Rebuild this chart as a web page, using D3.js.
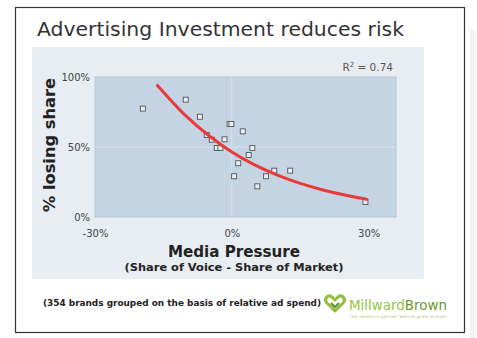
<!DOCTYPE html>
<html><head><meta charset="utf-8">
<script src="https://cdn.jsdelivr.net/npm/d3@7/dist/d3.min.js"></script>
<style>html,body{margin:0;padding:0;background:#fff;}svg{display:block;}</style>
</head><body>
<script>
// ---- data ----
const mediaPressure = [-19.5,-10.1,-7.0,-5.5,-4.4,-3.3,-2.5,-1.6,-0.5,-0.1,2.4,1.4,0.5,3.7,4.5,5.6,7.5,9.3,12.8,29.3];
const losingShare   = [77.4,83.8,71.6,58.6,55.2,49.3,49.3,55.5,66.4,66.4,61.2,38.4,29.1,44.3,49.3,21.9,29.1,33.1,33.1,10.7];
const trendX = [-16.3,-10,-5,0,5,10,15,20,25,29.6];
const trendY = [94,72,58,46.4,37.2,29.9,24,19.3,15.5,12.6];
const xTicks = [-30,0,30];
const yTicks = [0,50,100];
const rSquared = "0.74";

const W=477,H=338;
const svg=d3.select("body").append("svg").attr("width",W).attr("height",H);
const F="DejaVu Sans, Verdana, sans-serif";

// outer frame
svg.append("rect").attr("x",15.5).attr("y",7.5).attr("width",449).attr("height",325)
  .attr("fill","#fff").attr("stroke","#333").attr("stroke-width",1.2);
// faint strip at right
svg.append("rect").attr("x",470).attr("y",30).attr("width",6).attr("height",308).attr("fill","#f2f2f2");

// panel
svg.append("rect").attr("x",32).attr("y",47).attr("width",392).attr("height",232).attr("fill","#e8edf3");

// title
svg.append("text").attr("x",37).attr("y",36).attr("font-family",F).attr("font-size",20)
  .attr("fill","#333").attr("textLength",367).attr("lengthAdjust","spacingAndGlyphs")
  .text("Advertising Investment reduces risk");

const x=d3.scaleLinear().domain([-30,36]).range([95,396]);
const y=d3.scaleLinear().domain([0,100]).range([217,77]);

// plot area
svg.append("rect").attr("x",x(-30)).attr("y",y(100)).attr("width",x(36)-x(-30)).attr("height",y(0)-y(100))
  .attr("fill","#c4d4e2").attr("stroke","#b3c6d8");
// gridlines
svg.append("line").attr("x1",x(0)).attr("x2",x(0)).attr("y1",y(100)).attr("y2",y(0)).attr("stroke","#d6e1eb").attr("stroke-width",1);
svg.append("line").attr("x1",x(-30)).attr("x2",x(36)).attr("y1",y(50)).attr("y2",y(50)).attr("stroke","#d6e1eb").attr("stroke-width",1);

// axes
const fmt=d=>d+"%";
const gx=svg.append("g").attr("transform",`translate(0,${y(0)+10})`)
  .call(d3.axisBottom(x).tickValues(xTicks).tickFormat(fmt).tickSize(0));
gx.select(".domain").remove();
gx.selectAll("text").attr("font-family",F).attr("font-size",10).attr("fill","#444");
const gy=svg.append("g").attr("transform",`translate(${x(-30)-2},0)`)
  .call(d3.axisLeft(y).tickValues(yTicks).tickFormat(fmt).tickSize(0));
gy.select(".domain").remove();
gy.selectAll("text").attr("font-family",F).attr("font-size",10).attr("fill","#444");

// points
const pts=mediaPressure.map((d,i)=>({x:d,y:losingShare[i]}));
svg.append("g").selectAll("rect").data(pts).join("rect")
  .attr("x",d=>x(d.x)-2.5).attr("y",d=>y(d.y)-2.5).attr("width",5).attr("height",5)
  .attr("fill","#e6edf3").attr("stroke","#555").attr("stroke-width",0.9);

// trend line
const tr=trendX.map((d,i)=>({x:d,y:trendY[i]}));
svg.append("path").datum(tr).attr("fill","none").attr("stroke","#e8393b").attr("stroke-width",3)
  .attr("stroke-linecap","round")
  .attr("d",d3.line().x(d=>x(d.x)).y(d=>y(d.y)).curve(d3.curveMonotoneX));

// R^2
const rt=svg.append("text").attr("x",393).attr("y",71).attr("text-anchor","end")
  .attr("font-family",F).attr("font-size",10.5).attr("fill","#555");
rt.append("tspan").text("R");
rt.append("tspan").attr("font-size",7).attr("dy",-4).text("2");
rt.append("tspan").attr("dy",4).text(" = "+rSquared);

// y title
svg.append("text").attr("transform","translate(55,145) rotate(-90)").attr("text-anchor","middle")
  .attr("font-family",F).attr("font-size",16).attr("font-weight","bold").attr("fill","#222")
  .attr("textLength",134).attr("lengthAdjust","spacingAndGlyphs")
  .text("% losing share");

// x titles
svg.append("text").attr("x",234).attr("y",257).attr("text-anchor","middle")
  .attr("font-family",F).attr("font-size",15).attr("font-weight","bold").attr("fill","#222")
  .attr("textLength",132).attr("lengthAdjust","spacingAndGlyphs")
  .text("Media Pressure");
svg.append("text").attr("x",234).attr("y",271).attr("text-anchor","middle")
  .attr("font-family",F).attr("font-size",11).attr("font-weight","bold").attr("fill","#222")
  .attr("textLength",219).attr("lengthAdjust","spacingAndGlyphs")
  .text("(Share of Voice - Share of Market)");

// footer
svg.append("text").attr("x",43).attr("y",306).attr("font-family",F).attr("font-size",8.5)
  .attr("font-weight","bold").attr("fill","#222").attr("textLength",278).attr("lengthAdjust","spacingAndGlyphs")
  .text("(354 brands grouped on the basis of relative ad spend)");

// logo
const lg=svg.append("g").attr("transform","translate(335,304)");
lg.append("path").attr("d","M0,7 L-8,-1 C-12,-5 -7,-10 -3,-7 L0,-4 L3,-7 C7,-10 12,-5 8,-1 Z")
  .attr("fill","none").attr("stroke","#8fbf3f").attr("stroke-width",3).attr("stroke-linejoin","round");
lg.append("path").attr("d","M-4,-1 L0,3 L4,-1").attr("fill","none").attr("stroke","#5f8f2c").attr("stroke-width",2);
const mb=svg.append("text").attr("x",349).attr("y",310).attr("font-family",F).attr("font-size",14.5)
  .attr("textLength",98).attr("lengthAdjust","spacingAndGlyphs");
mb.append("tspan").attr("fill","#97c23f").text("Millward");
mb.append("tspan").attr("fill","#6a9633").text("Brown");
svg.append("text").attr("x",350).attr("y",318).attr("font-family",F).attr("font-size",4)
  .attr("fill","#a8c070").attr("textLength",96).text("the research partner behind great brands");
</script>
</body></html>
